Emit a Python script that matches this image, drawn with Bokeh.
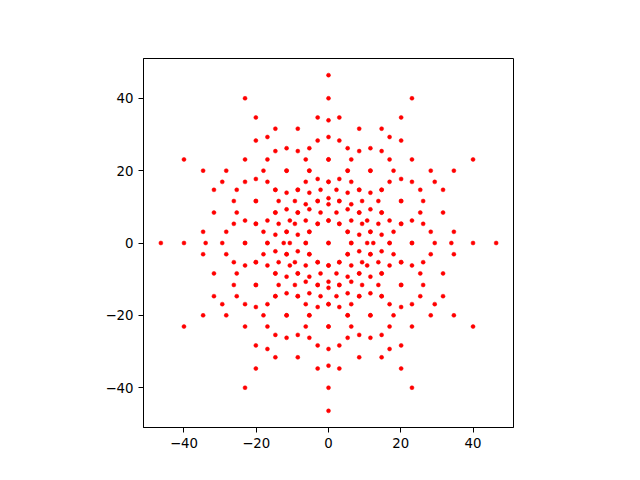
from bokeh.plotting import figure
from bokeh.embed import file_html
from bokeh.resources import INLINE
from bokeh.models import FixedTicker

# rows of the pattern: y level, then the x positions read on that level
row_y = [46.4, 40.0, 34.7, 33.9, 31.6, 29.3, 28.3, 26.2, 25.4, 23.1, 20.0, 17.7, 16.9, 14.7, 13.9, 12.4, 11.6, 10.7, 9.3, 8.4, 6.2, 5.3, 3.1, 2.3, 0.0,
         -2.3, -3.1, -5.3, -6.2, -8.4, -9.3, -10.7, -11.6, -12.4, -13.9, -14.7, -16.9, -17.7, -20.0, -23.1, -25.4, -26.2, -28.3, -29.3, -31.6, -33.9, -34.7, -40.0, -46.4]
row_x = [
    [0],
    [-23.1, 0, 23.1],
    [-20.1, -3.0, 3.0, 20.1],
    [0],
    [-14.7, -8.5, 8.5, 14.7],
    [-16.9, 0, 16.9],
    [-20.1, -3.0, 3.0, 20.1],
    [-11.6, -5.3, 5.3, 11.6],
    [-14.7, -8.5, 8.5, 14.7],
    [-40.0, -23.1, -16.9, -6.3, 0, 6.3, 16.9, 23.1, 40.0],
    [-34.7, -28.3, -18.0, -11.6, -5.3, 5.3, 11.6, 18.0, 28.3, 34.7],
    [-20.1, -3.0, 3.0, 20.1],
    [-29.4, -23.1, -16.9, -6.3, 0, 6.3, 16.9, 23.1, 29.4],
    [-31.7, -25.4, -14.7, -8.5, -2.2, 2.2, 8.5, 14.7, 25.4, 31.7],
    [-11.6, -5.3, 5.3, 11.6],
    [0],
    [-26.2, -20.1, -13.8, -9.3, -3.0, 3.0, 9.3, 13.8, 20.1, 26.2],
    [-6.3, 0, 6.3],
    [-11.6, -5.3, 5.3, 11.6],
    [-31.7, -25.4, -14.7, -8.5, -2.2, 2.2, 8.5, 14.7, 25.4, 31.7],
    [-23.1, -16.9, -10.7, -6.3, 0, 6.3, 10.7, 16.9, 23.1],
    [-26.2, -20.1, -13.8, -9.3, -3.0, 3.0, 9.3, 13.8, 20.1, 26.2],
    [-34.7, -28.3, -18.0, -11.6, -5.3, 5.3, 11.6, 18.0, 28.3, 34.7],
    [-14.7, -8.5, 8.5, 14.7],
    [-46.4, -40.0, -34.0, -29.4, -23.1, -16.9, -12.4, -10.7, -6.3, 0, 6.3, 10.7, 12.4, 16.9, 23.1, 29.4, 34.0, 40.0, 46.4],
    [-14.7, -8.5, 8.5, 14.7],
    [-34.7, -28.3, -18.0, -11.6, -5.3, 5.3, 11.6, 18.0, 28.3, 34.7],
    [-26.2, -20.1, -13.8, -9.3, -3.0, 3.0, 9.3, 13.8, 20.1, 26.2],
    [-23.1, -16.9, -10.7, -6.3, 0, 6.3, 10.7, 16.9, 23.1],
    [-31.7, -25.4, -14.7, -8.5, -2.2, 2.2, 8.5, 14.7, 25.4, 31.7],
    [-11.6, -5.3, 5.3, 11.6],
    [-6.3, 0, 6.3],
    [-26.2, -20.1, -13.8, -9.3, -3.0, 3.0, 9.3, 13.8, 20.1, 26.2],
    [0],
    [-11.6, -5.3, 5.3, 11.6],
    [-31.7, -25.4, -14.7, -8.5, -2.2, 2.2, 8.5, 14.7, 25.4, 31.7],
    [-29.4, -23.1, -16.9, -6.3, 0, 6.3, 16.9, 23.1, 29.4],
    [-20.1, -3.0, 3.0, 20.1],
    [-34.7, -28.3, -18.0, -11.6, -5.3, 5.3, 11.6, 18.0, 28.3, 34.7],
    [-40.0, -23.1, -16.9, -6.3, 0, 6.3, 16.9, 23.1, 40.0],
    [-14.7, -8.5, 8.5, 14.7],
    [-11.6, -5.3, 5.3, 11.6],
    [-20.1, -3.0, 3.0, 20.1],
    [-16.9, 0, 16.9],
    [-14.7, -8.5, 8.5, 14.7],
    [0],
    [-20.1, -3.0, 3.0, 20.1],
    [-23.1, 0, 23.1],
    [0],
]
# points that read darker in the picture (overlapping duplicates)
dup_y = [23.1, 20.0, 20.0, 20.0, 20.0, 16.9, 14.7, 14.7, 14.7, 14.7, 11.6, 11.6, 11.6, 11.6, 8.4, 8.4, 8.4, 8.4, 6.2, 5.3, 5.3, 5.3, 5.3, 3.1, 3.1, 3.1, 3.1,
         0.0, 0.0, 0.0, 0.0, 0.0, 0.0, 0.0,
         -3.1, -3.1, -3.1, -3.1, -5.3, -5.3, -5.3, -5.3, -6.2, -8.4, -8.4, -8.4, -8.4, -11.6, -11.6, -11.6, -11.6, -14.7, -14.7, -14.7, -14.7, -16.9, -20.0, -20.0, -20.0, -20.0, -23.1]
dup_x = [0, -11.6, -5.3, 5.3, 11.6, 0, -14.7, -8.5, 8.5, 14.7, -20.1, -3.0, 3.0, 20.1, -14.7, -8.5, 8.5, 14.7, 0, -20.1, -3.0, 3.0, 20.1, -11.6, -5.3, 5.3, 11.6,
         -23.1, -16.9, -6.3, 0, 6.3, 16.9, 23.1,
         -11.6, -5.3, 5.3, 11.6, -20.1, -3.0, 3.0, 20.1, 0, -14.7, -8.5, 8.5, 14.7, -20.1, -3.0, 3.0, 20.1, -14.7, -8.5, 8.5, 14.7, 0, -11.6, -5.3, 5.3, 11.6, 0]
tick_values = [-40, -20, 0, 20, 40]
tick_labels = ["\u221240", "\u221220", "0", "20", "40"]

xs = [x for row in row_x for x in row]
ys = [y for y, row in zip(row_y, row_x) for _ in row]

p = figure(width=632, height=472, x_range=(-51.2, 51.2), y_range=(-51.0, 51.0),
           output_backend="svg", toolbar_location=None,
           min_border_left=143, min_border_right=119, min_border_top=58, min_border_bottom=45)
p.grid.visible = False
p.outline_line_color = "black"
p.outline_line_width = 1
p.background_fill_color = "white"
p.border_fill_color = "white"
for ax in (p.xaxis[0], p.yaxis[0]):
    ax.ticker = FixedTicker(ticks=tick_values)
    ax.major_label_overrides = dict(zip(tick_values, tick_labels))
    ax.minor_tick_line_color = None
    ax.major_tick_in = 0
    ax.major_tick_out = 5
    ax.major_tick_line_color = "black"
    ax.axis_line_color = "black"
    ax.major_label_text_font = "DejaVu Sans"
    ax.major_label_text_font_size = "13.3px"
    ax.major_label_text_color = "black"
    ax.major_label_standoff = 5

p.scatter(xs, ys, size=4.0, marker="circle", color="red", line_width=0.5)
p.scatter(dup_x, dup_y, size=4.0, marker="circle", color="red", line_width=0.5)

open("out.html", "w").write(file_html(p, INLINE))
